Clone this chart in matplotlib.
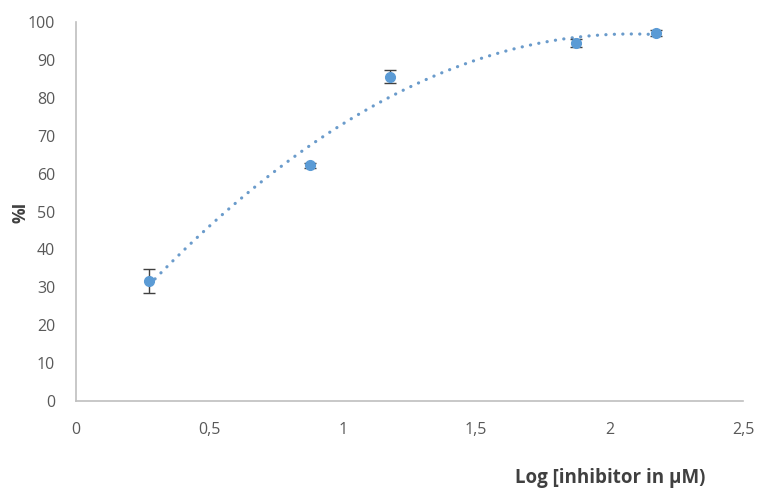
import numpy as np
import matplotlib
matplotlib.use("Agg")
import matplotlib.pyplot as plt

log_conc = [0.274, 0.877, 1.177, 1.874, 2.174]
inhibition = [31.6, 62.2, 85.6, 94.4, 97.1]
errors = [3.1, 0.6, 1.8, 1.0, 0.8]
x_ticks = [0, 0.5, 1, 1.5, 2, 2.5]
x_tick_labels = ["0", "0,5", "1", "1,5", "2", "2,5"]
y_ticks = list(range(0, 101, 10))

plt.rcParams['font.family'] = ['Open Sans', 'DejaVu Sans']

fig = plt.figure(figsize=(7.59, 4.95), dpi=100)
ax = fig.add_axes([76/759, 1 - 401/495, (743-76)/759, (401-22)/495])

color = '#5B9BD5'
coef = np.polyfit(log_conc, inhibition, 2)
xs = np.linspace(min(log_conc), max(log_conc), 300)
ax.plot(xs, np.polyval(coef, xs), linestyle=(0, (0.05, 2.6)), color='#6A9BCB',
        lw=2.3, dash_capstyle='round', solid_capstyle='round')

ax.errorbar(log_conc, inhibition, yerr=errors, fmt='o', color=color, ms=7,
            ecolor='#404040', elinewidth=1, capsize=4, capthick=1, zorder=3)

ax.set_xlim(0, 2.5)
ax.set_ylim(0, 100)
ax.set_xticks(x_ticks)
ax.set_xticklabels(x_tick_labels)
ax.set_yticks(y_ticks)
ax.tick_params(length=0, labelsize=11.5, colors='#595959')
ax.tick_params(axis='x', pad=15)
ax.tick_params(axis='y', pad=15)
for s in ['top', 'right']:
    ax.spines[s].set_visible(False)
for s in ['left', 'bottom']:
    ax.spines[s].set_color('#BFBFBF')
    ax.spines[s].set_linewidth(1.2)

fig.text(610/759, 1 - 478/495, "Log [inhibitor in µM)", ha='center', va='center',
         fontsize=13.5, fontweight='bold', color='#404040')
fig.text(20/759, 1 - 212/495, "%I", ha='center', va='center', rotation=90,
         fontsize=12.5, fontweight='bold', color='#404040')

fig.savefig("out.png", dpi=100)
